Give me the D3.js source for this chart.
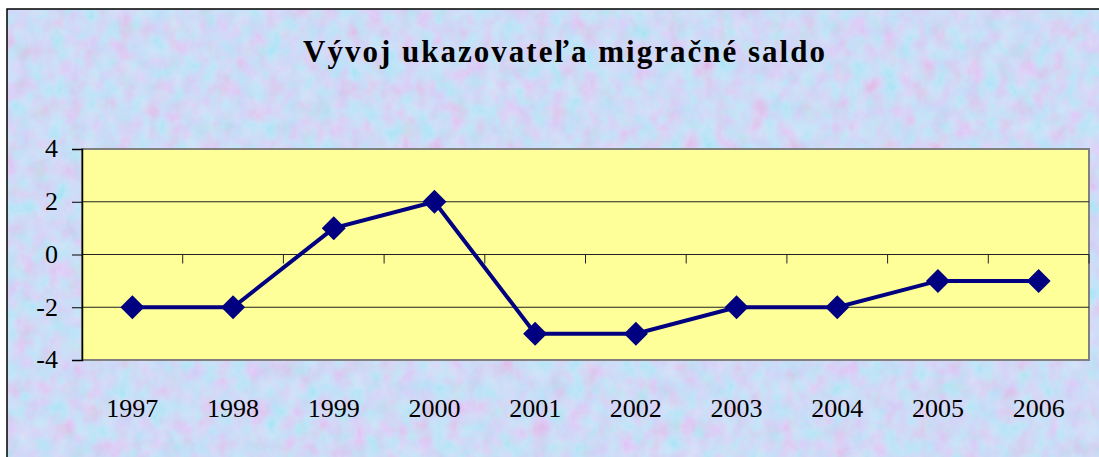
<!DOCTYPE html>
<html>
<head>
<meta charset="utf-8">
<script src="https://cdn.jsdelivr.net/npm/d3@7"></script>
<style>
  body { margin: 0; background: #fff; }
  text { font-family: "Liberation Serif", serif; }
</style>
</head>
<body>
<div id="chart"></div>
<script>
// data
var years = ["1997", "1998", "1999", "2000", "2001", "2002", "2003", "2004", "2005", "2006"];
var saldo = [-2, -2, 1, 2, -3, -3, -2, -2, -1, -1];
var yTicks = [4, 2, 0, -2, -4];
var title = "Vývoj ukazovateľa migračné saldo";

var W = 1099, H = 457;
var plot = {left: 82, top: 149, right: 1089, bottom: 360};

var svg = d3.select("#chart").append("svg")
    .attr("width", W)
    .attr("height", H);

// textured pastel background
var defs = svg.append("defs");
var f = defs.append("filter").attr("id", "tex")
    .attr("x", 0).attr("y", 0).attr("width", "100%").attr("height", "100%");
f.append("feTurbulence")
    .attr("type", "fractalNoise")
    .attr("baseFrequency", "0.06 0.05")
    .attr("numOctaves", 4)
    .attr("seed", 7);
f.append("feColorMatrix")
    .attr("type", "matrix")
    .attr("values",
      "0.9 -0.6 0 0 0.50 " +
      "-0.4 0.9 0.2 0 0.45 " +
      "0 0.3 0.6 0 0.55 " +
      "0 0 0 0 1");

svg.append("rect")
    .attr("x", 0).attr("y", 0).attr("width", W).attr("height", H)
    .attr("fill", "#fff");
svg.append("rect")
    .attr("x", 7).attr("y", 9).attr("width", W).attr("height", H)
    .attr("fill", "#cbd3f2");
svg.append("rect")
    .attr("x", 7).attr("y", 9).attr("width", W).attr("height", H)
    .attr("filter", "url(#tex)")
    .attr("opacity", 0.4);
svg.append("rect")
    .attr("x", 7).attr("y", 9).attr("width", W + 10).attr("height", H + 10)
    .attr("fill", "none")
    .attr("stroke", "#000")
    .attr("stroke-width", 1.5);

// title
svg.append("text")
    .attr("x", 564).attr("y", 62)
    .attr("text-anchor", "middle")
    .attr("font-size", "31px")
    .attr("font-weight", "bold")
    .attr("textLength", 522)
    .attr("lengthAdjust", "spacing")
    .text(title);

// scales
var x = d3.scaleBand().domain(years).range([plot.left, plot.right]);
var y = d3.scaleLinear().domain([-4, 4]).range([plot.bottom, plot.top]);

// plot area
svg.append("rect")
    .attr("x", plot.left).attr("y", plot.top)
    .attr("width", plot.right - plot.left).attr("height", plot.bottom - plot.top)
    .attr("fill", "#ffff99")
    .attr("stroke", "#808080")
    .attr("stroke-width", 2);

// gridlines
svg.append("g").selectAll("line")
    .data(yTicks.filter(function(d){ return d > -4 && d < 4; }))
    .enter().append("line")
    .attr("x1", plot.left).attr("x2", plot.right)
    .attr("y1", function(d){ return y(d); })
    .attr("y2", function(d){ return y(d); })
    .attr("stroke", "#222")
    .attr("stroke-width", 1);

// y axis
var yAxis = svg.append("g")
    .attr("transform", "translate(" + plot.left + ",0)")
    .call(d3.axisLeft(y).tickValues(yTicks).tickSize(10).tickPadding(14)
        .tickFormat(function(d){ return d < 0 ? "-" + Math.abs(d) : d; }));
yAxis.attr("font-family", null);
yAxis.select(".domain").attr("stroke", "#000").attr("stroke-width", 1.5);
yAxis.selectAll(".tick line").attr("stroke", "#000");
yAxis.selectAll("text")
    .attr("font-size", "26px")
    .attr("fill", "#000")
    .attr("dy", "0.3em");

// x axis at zero, ticks between categories, pointing down
var bounds = years.map(function(d){ return x(d) + x.bandwidth(); });
svg.append("g").selectAll("line")
    .data(bounds)
    .enter().append("line")
    .attr("x1", function(d){ return d; }).attr("x2", function(d){ return d; })
    .attr("y1", y(0)).attr("y2", y(0) + 9)
    .attr("stroke", "#222");

// category labels at bottom
svg.append("g").selectAll("text")
    .data(years)
    .enter().append("text")
    .attr("x", function(d){ return x(d) + x.bandwidth() / 2; })
    .attr("y", 417)
    .attr("text-anchor", "middle")
    .attr("font-size", "26px")
    .text(function(d){ return d; });

// line
var line = d3.line()
    .x(function(d, i){ return x(years[i]) + x.bandwidth() / 2; })
    .y(function(d){ return y(d); });
svg.append("path")
    .datum(saldo)
    .attr("d", line)
    .attr("fill", "none")
    .attr("stroke", "#000080")
    .attr("stroke-width", 4);

// diamond markers
svg.append("g").selectAll("path")
    .data(saldo)
    .enter().append("path")
    .attr("transform", function(d, i){
        return "translate(" + (x(years[i]) + x.bandwidth() / 2) + "," + y(d) + ")";
    })
    .attr("d", "M0,-12L12,0L0,12L-12,0Z")
    .attr("fill", "#000080");
</script>
</body>
</html>
